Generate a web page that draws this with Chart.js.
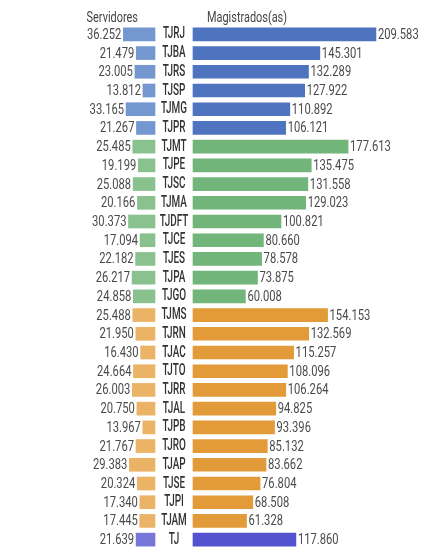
<!DOCTYPE html>
<html>
<head>
<meta charset="utf-8">
<script src="https://cdn.jsdelivr.net/npm/chart.js@4.4.1/dist/chart.umd.min.js"></script>
<style>
  body { margin: 0; background: #fff; }
  #wrap { position: relative; width: 442px; height: 555px; }
</style>
</head>
<body>
<div id="wrap"><canvas id="tjChart"></canvas></div>
<script>
// tribunais, na ordem do grafico
const tribunais = ['TJRJ', 'TJBA', 'TJRS', 'TJSP', 'TJMG', 'TJPR',
    'TJMT', 'TJPE', 'TJSC', 'TJMA', 'TJDFT', 'TJCE', 'TJES', 'TJPA', 'TJGO',
    'TJMS', 'TJRN', 'TJAC', 'TJTO', 'TJRR', 'TJAL', 'TJPB', 'TJRO', 'TJAP', 'TJSE', 'TJPI', 'TJAM',
    'TJ'];
const porte = ['G', 'G', 'G', 'G', 'G', 'G',
    'M', 'M', 'M', 'M', 'M', 'M', 'M', 'M', 'M',
    'P', 'P', 'P', 'P', 'P', 'P', 'P', 'P', 'P', 'P', 'P', 'P',
    'T'];
const servidores = [36.252, 21.479, 23.005, 13.812, 33.165, 21.267,
    25.485, 19.199, 25.088, 20.166, 30.373, 17.094, 22.182, 26.217, 24.858,
    25.488, 21.950, 16.430, 24.664, 26.003, 20.750, 13.967, 21.767, 29.383, 20.324, 17.340, 17.445,
    21.639];
const magistrados = [209.583, 145.301, 132.289, 127.922, 110.892, 106.121,
    177.613, 135.475, 131.558, 129.023, 100.821, 80.660, 78.578, 73.875, 60.008,
    154.153, 132.569, 115.257, 108.096, 106.264, 94.825, 93.396, 85.132, 83.662, 76.804, 68.508, 61.328,
    117.860];

const coresServ = { G: '#7597d0', M: '#89c28f', P: '#ebb366', T: '#7777da' };
const coresMag = { G: '#4e73bf', M: '#72b57b', P: '#e39a38', T: '#5353cf' };

// geometria: ambos os eixos x ocupam toda a largura, com zeros diferentes
const W = 442;
const pxPorUnidade = 0.873;
const zeroDireita = 193;
const zeroEsquerda = 155;
const faixa = W / pxPorUnidade;

const FONTE = 'Roboto, sans-serif';

// a fonte original e condensada; aperta o texto na horizontal
function textoEstreito(ctx, txt, x, y, align, sx) {
    ctx.save();
    ctx.translate(x, y);
    ctx.scale(sx, 1);
    ctx.textAlign = align;
    ctx.fillText(txt, 0, 0);
    ctx.restore();
}

const rotulos = {
    id: 'rotulos',
    afterDatasetsDraw(chart) {
        const ctx = chart.ctx;
        ctx.save();
        ctx.textBaseline = 'middle';
        ctx.font = '14px ' + FONTE;
        ctx.fillStyle = '#4a4a4a';

        chart.getDatasetMeta(0).data.forEach((bar, i) => {
            textoEstreito(ctx, servidores[i].toFixed(3), bar.x - 2, bar.y + 1, 'right', 0.8);
        });
        chart.getDatasetMeta(1).data.forEach((bar, i) => {
            textoEstreito(ctx, magistrados[i].toFixed(3), bar.x + 2, bar.y + 1, 'left', 0.8);
        });

        // nomes dos tribunais no meio
        ctx.font = '500 16px ' + FONTE;
        ctx.fillStyle = '#333';
        const yScale = chart.scales.y;
        tribunais.forEach((t, i) => {
            textoEstreito(ctx, t, (zeroEsquerda + zeroDireita) / 2, yScale.getPixelForValue(i), 'center', 0.62);
        });

        // titulos
        ctx.font = '14px ' + FONTE;
        ctx.fillStyle = '#444';
        textoEstreito(ctx, 'Servidores', 138, 18, 'right', 0.78);
        textoEstreito(ctx, 'Magistrados(as)', 207, 18, 'left', 0.78);
        ctx.restore();
    }
};

const ctx = document.getElementById('tjChart').getContext('2d');

new Chart(ctx, {
    type: 'bar',
    data: {
        labels: tribunais,
        datasets: [{
            label: 'Servidores',
            data: servidores,
            xAxisID: 'xL',
            backgroundColor: porte.map(p => coresServ[p]),
            grouped: false,
            barThickness: 13
        }, {
            label: 'Magistrados(as)',
            data: magistrados,
            xAxisID: 'xR',
            backgroundColor: porte.map(p => coresMag[p]),
            grouped: false,
            barThickness: 13
        }]
    },
    options: {
        indexAxis: 'y',
        responsive: true,
        maintainAspectRatio: false,
        animation: false,
        layout: { padding: { top: 25, bottom: 6, left: 0, right: 0 } },
        plugins: { legend: { display: false }, tooltip: { enabled: false } },
        scales: {
            y: { display: false },
            xR: {
                axis: 'x', type: 'linear', display: false,
                min: -zeroDireita / pxPorUnidade,
                max: faixa - zeroDireita / pxPorUnidade
            },
            xL: {
                axis: 'x', type: 'linear', display: false, reverse: true,
                min: zeroEsquerda / pxPorUnidade - faixa,
                max: zeroEsquerda / pxPorUnidade
            }
        }
    },
    plugins: [rotulos]
});
</script>
</body>
</html>
